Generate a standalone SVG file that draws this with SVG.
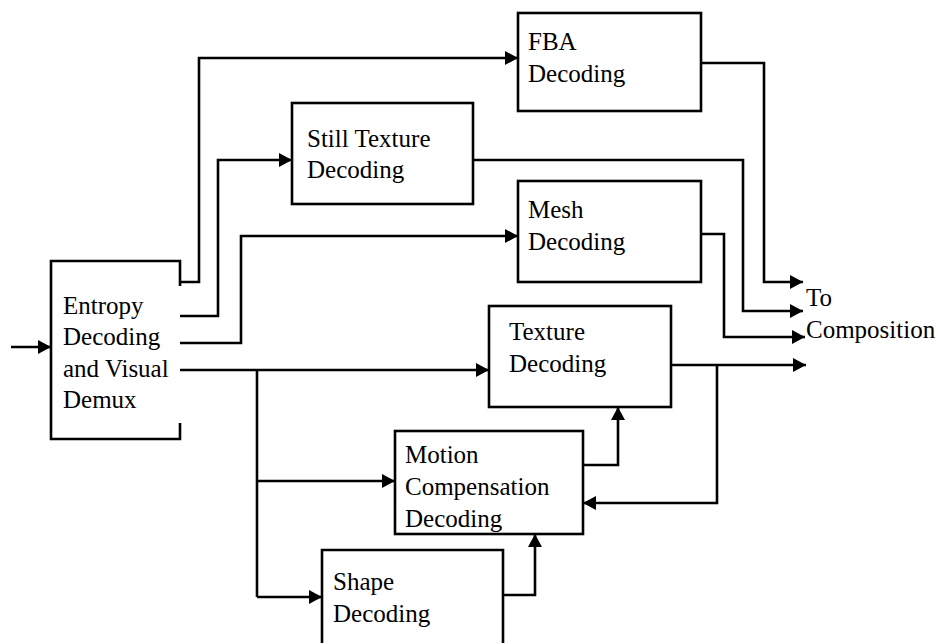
<svg xmlns="http://www.w3.org/2000/svg" width="942" height="643" viewBox="0 0 942 643">
<defs>
<marker id="arr" markerUnits="userSpaceOnUse" markerWidth="14" markerHeight="14" refX="13" refY="7" orient="auto">
<path d="M0,0 L13,7 L0,14 z" fill="#000"/>
</marker>
<style>
.box{fill:#fff;stroke:#000;stroke-width:2.6}
.open{fill:none;stroke:#000;stroke-width:2.6}
.lbl{font-family:"Liberation Serif","Times New Roman",serif;font-size:25px;fill:#000}
.c{fill:none;stroke:#000;stroke-width:2.6;stroke-linejoin:miter}
.a{marker-end:url(#arr)}
</style>
</defs>
<rect width="942" height="643" fill="#fff"/>
<g id="connectors">
<path class="c a" d="M11,347 H51"/>
<path class="c a" d="M180,282 H199 V58 H518"/>
<path class="c a" d="M180,316 H218 V160 H292"/>
<path class="c a" d="M180,343 H241 V236 H518"/>
<path class="c a" d="M180,370 H489"/>
<path class="c" d="M257,370 V597"/>
<path class="c a" d="M257,481 H395"/>
<path class="c a" d="M257,597 H322"/>
<path class="c a" d="M503,595 H535 V534"/>
<path class="c a" d="M583,465 H618 V407"/>
<path class="c a" d="M671,365 H806"/>
<path class="c a" d="M717,365 V503 H583"/>
<path class="c a" d="M701,63 H764 V282 H803"/>
<path class="c a" d="M473,160 H743 V311 H803"/>
<path class="c a" d="M701,234 H724 V337 H805"/>
</g>
<g id="entropy">
<rect x="52" y="262" width="127" height="176" fill="#fff"/>
<path class="open" d="M180,286 V261 H51 V439 H180 V423"/>
<text class="lbl" x="63" y="314">Entropy</text>
<text class="lbl" x="63" y="345">Decoding</text>
<text class="lbl" x="63" y="377">and Visual</text>
<text class="lbl" x="63" y="408">Demux</text>
</g>
<g id="fba">
<rect class="box" x="518" y="13" width="183" height="98"/>
<text class="lbl" x="528" y="50">FBA</text>
<text class="lbl" x="528" y="82">Decoding</text>
</g>
<g id="still-texture">
<rect class="box" x="292" y="103" width="181" height="101"/>
<text class="lbl" x="307" y="147">Still Texture</text>
<text class="lbl" x="307" y="178">Decoding</text>
</g>
<g id="mesh">
<rect class="box" x="518" y="181" width="183" height="101"/>
<text class="lbl" x="528" y="218">Mesh</text>
<text class="lbl" x="528" y="250">Decoding</text>
</g>
<g id="texture">
<rect class="box" x="489" y="306" width="182" height="101"/>
<text class="lbl" x="509" y="340">Texture</text>
<text class="lbl" x="509" y="372">Decoding</text>
</g>
<g id="motion">
<rect class="box" x="395" y="431" width="188" height="103"/>
<text class="lbl" x="405" y="463">Motion</text>
<text class="lbl" x="405" y="495">Compensation</text>
<text class="lbl" x="405" y="527">Decoding</text>
</g>
<g id="shape">
<rect x="323" y="551" width="179" height="100" fill="#fff"/>
<path class="open" d="M322,648 V550 H503 V648"/>
<text class="lbl" x="333" y="590">Shape</text>
<text class="lbl" x="333" y="622">Decoding</text>
</g>
<g id="composition">
<text class="lbl" x="806" y="306">To</text>
<text class="lbl" x="806" y="338">Composition</text>
</g>
</svg>
